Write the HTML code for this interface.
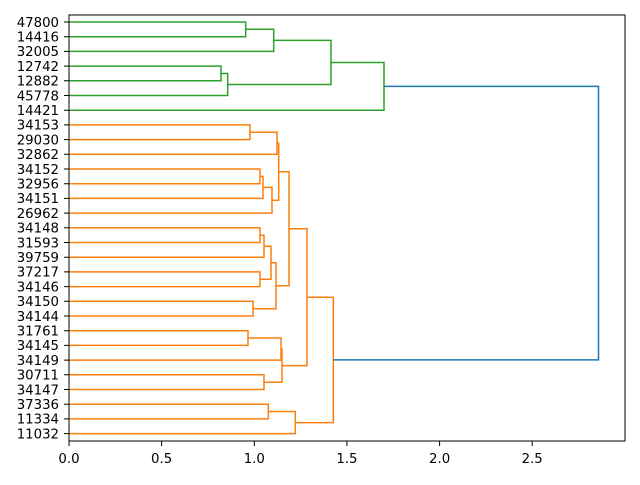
<!DOCTYPE html>
<html><head><meta charset="utf-8"><style>
html,body{margin:0;padding:0;background:#fff;}
svg text{font-family:"DejaVu Sans","Liberation Sans",sans-serif;font-size:13.3px;fill:#000;}
</style></head><body>
<svg width="640" height="480" viewBox="0 0 640 480" xmlns="http://www.w3.org/2000/svg">
<rect width="640" height="480" fill="#fff"/>
<g fill="none" stroke-width="1.5">
<g stroke="#2ca02c">
<path d="M69 22 H245.7 V36.7 H69"/>
<path d="M245.7 29.3 H273.7 V51.4 H69"/>
<path d="M69 66.1 H221 V80.8 H69"/>
<path d="M221 73.5 H227.7 V95.5 H69"/>
<path d="M273.7 40.4 H331 V84.5 H227.7"/>
<path d="M331 62.5 H384 V110.2 H69"/>
</g>
<g stroke="#ff7f0e">
<path d="M69 124.9 H250 V139.6 H69"/>
<path d="M250 132.3 H277 V154.3 H69"/>
<path d="M69 169 H260 V183.7 H69"/>
<path d="M260 176.4 H263 V198.4 H69"/>
<path d="M263 187.4 H272 V213.1 H69"/>
<path d="M277 143.3 H278.7 V200.2 H272"/>
<path d="M69 227.8 H260 V242.5 H69"/>
<path d="M260 235.2 H264 V257.2 H69"/>
<path d="M69 271.9 H260 V286.6 H69"/>
<path d="M264 246.2 H271 V279.3 H260"/>
<path d="M69 301.3 H253 V316 H69"/>
<path d="M271 262.7 H276 V308.7 H253"/>
<path d="M278.7 171.7 H289 V285.7 H276"/>
<path d="M69 330.7 H248 V345.4 H69"/>
<path d="M248 338 H281 V360.1 H69"/>
<path d="M69 374.8 H264 V389.5 H69"/>
<path d="M281 349 H282 V382.2 H264"/>
<path d="M289 228.7 H307 V365.6 H282"/>
<path d="M69 404.2 H268.3 V418.9 H69"/>
<path d="M268.3 411.5 H295.3 V433.6 H69"/>
<path d="M307 297.2 H333.3 V422.6 H295.3"/>
</g>
<path stroke="#1f77b4" d="M384 86.4 H598.5 V359.9 H333.3"/>
</g>
<rect x="69" y="15" width="556" height="426" fill="none" stroke="#000" stroke-width="1"/>
<g stroke="#000" stroke-width="1">
<path d="M69 441v5M161.6 441v5M254.3 441v5M346.9 441v5M439.6 441v5M532.2 441v5"/>
<path d="M64 22h5M64 36.7h5M64 51.4h5M64 66.1h5M64 80.8h5M64 95.5h5M64 110.2h5M64 124.9h5M64 139.6h5M64 154.3h5M64 169h5M64 183.7h5M64 198.4h5M64 213.1h5M64 227.8h5M64 242.5h5M64 257.2h5M64 271.9h5M64 286.6h5M64 301.3h5M64 316h5M64 330.7h5M64 345.4h5M64 360.1h5M64 374.8h5M64 389.5h5M64 404.2h5M64 418.9h5M64 433.6h5"/>
</g>
<g text-anchor="middle">
<text x="69" y="463">0.0</text><text x="161.6" y="463">0.5</text><text x="254.3" y="463">1.0</text>
<text x="346.9" y="463">1.5</text><text x="439.6" y="463">2.0</text><text x="532.2" y="463">2.5</text>
</g>
<g text-anchor="end">
<text x="59" y="26.8">47800</text><text x="59" y="41.5">14416</text><text x="59" y="56.2">32005</text>
<text x="59" y="70.9">12742</text><text x="59" y="85.6">12882</text><text x="59" y="100.3">45778</text>
<text x="59" y="115">14421</text><text x="59" y="129.7">34153</text><text x="59" y="144.4">29030</text>
<text x="59" y="159.1">32862</text><text x="59" y="173.8">34152</text><text x="59" y="188.5">32956</text>
<text x="59" y="203.2">34151</text><text x="59" y="217.9">26962</text><text x="59" y="232.6">34148</text>
<text x="59" y="247.3">31593</text><text x="59" y="262">39759</text><text x="59" y="276.7">37217</text>
<text x="59" y="291.4">34146</text><text x="59" y="306.1">34150</text><text x="59" y="320.8">34144</text>
<text x="59" y="335.5">31761</text><text x="59" y="350.2">34145</text><text x="59" y="364.9">34149</text>
<text x="59" y="379.6">30711</text><text x="59" y="394.3">34147</text><text x="59" y="409">37336</text>
<text x="59" y="423.7">11334</text><text x="59" y="438.4">11032</text>
</g>
</svg>
</body></html>
